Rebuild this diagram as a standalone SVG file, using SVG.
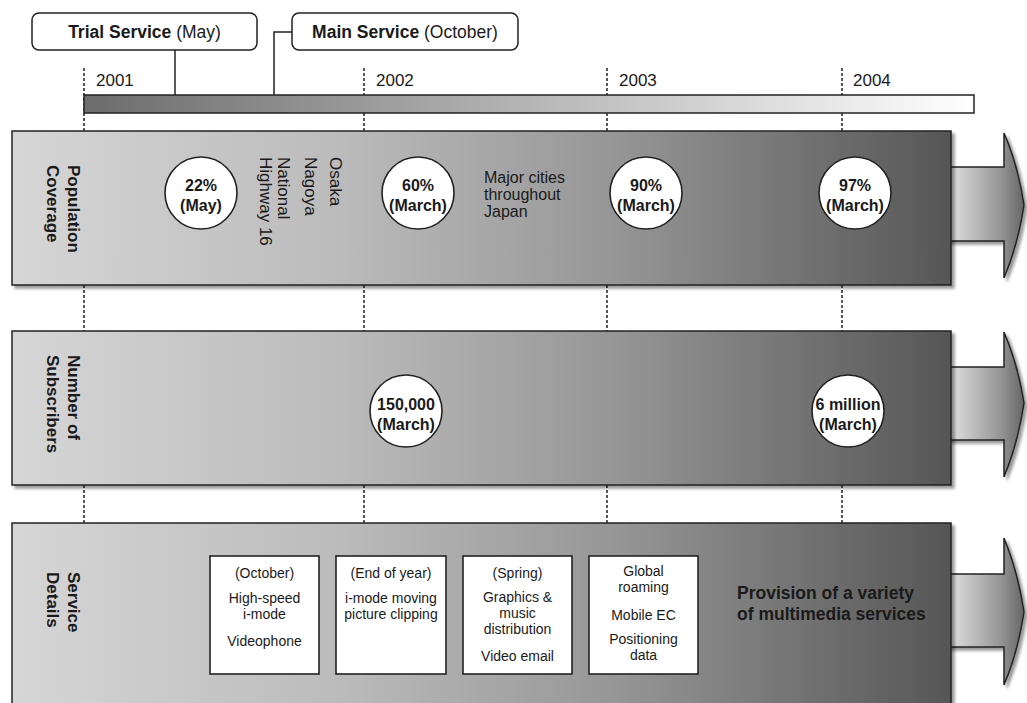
<svg xmlns="http://www.w3.org/2000/svg" width="1027" height="703" viewBox="0 0 1027 703">
<defs>
<style>
text{font-family:"Liberation Sans",Arial,Helvetica,sans-serif;fill:#1a1a1a}
.frame{stroke:#222;stroke-width:1.5}
.band{fill:url(#bandGrad);stroke:#222;stroke-width:1.5}
.arrow{fill:url(#arrowGrad);stroke:#222;stroke-width:1.5;stroke-linejoin:miter}
.grid{stroke:#222;stroke-width:1.5;stroke-dasharray:3 2;fill:none}
.lead{stroke:#222;stroke-width:1.5;fill:none}
.circ{fill:#fff;stroke:#222;stroke-width:1.6}
.box{fill:#fff;stroke:#222;stroke-width:1.6}
.tag{fill:#fff;stroke:#222;stroke-width:1.5}
.ct{font-size:16px;font-weight:bold;text-anchor:middle}
.rl{font-size:17px;font-weight:bold}
.rt{font-size:17px}
.mc{font-size:16px}
.bt{font-size:14px;text-anchor:middle}
.yr{font-size:17px}
.tt{font-size:17.5px;text-anchor:middle}
</style>
<linearGradient id="bandGrad" x1="0" y1="0" x2="1" y2="0">
<stop offset="0" stop-color="#d6d6d6"/>
<stop offset="0.35" stop-color="#bbbbbb"/>
<stop offset="0.65" stop-color="#959595"/>
<stop offset="1" stop-color="#565656"/>
</linearGradient>
<linearGradient id="barGrad" x1="0" y1="0" x2="1" y2="0">
<stop offset="0" stop-color="#6c6c6c"/>
<stop offset="1" stop-color="#ffffff"/>
</linearGradient>
<linearGradient id="arrowGrad" x1="0" y1="0" x2="1" y2="0">
<stop offset="0" stop-color="#e8e8e8"/>
<stop offset="0.7" stop-color="#959595"/>
<stop offset="1" stop-color="#666666"/>
</linearGradient>
<filter id="shadow" x="-5%" y="-5%" width="115%" height="120%">
<feGaussianBlur in="SourceAlpha" stdDeviation="1.5"/>
<feOffset dx="3" dy="3"/>
<feComponentTransfer><feFuncA type="linear" slope="0.4"/></feComponentTransfer>
<feMerge><feMergeNode/><feMergeNode in="SourceGraphic"/></feMerge>
</filter>
</defs>
<rect width="1027" height="703" fill="#fff"/>

<g id="gridlines">
<line class="grid" x1="84" y1="68" x2="84" y2="131"/>
<line class="grid" x1="364" y1="68" x2="364" y2="131"/>
<line class="grid" x1="607" y1="68" x2="607" y2="131"/>
<line class="grid" x1="842" y1="68" x2="842" y2="131"/>
<line class="grid" x1="84" y1="285" x2="84" y2="331"/>
<line class="grid" x1="364" y1="285" x2="364" y2="331"/>
<line class="grid" x1="607" y1="285" x2="607" y2="331"/>
<line class="grid" x1="842" y1="285" x2="842" y2="331"/>
<line class="grid" x1="84" y1="485" x2="84" y2="523"/>
<line class="grid" x1="364" y1="485" x2="364" y2="523"/>
<line class="grid" x1="607" y1="485" x2="607" y2="523"/>
<line class="grid" x1="842" y1="485" x2="842" y2="523"/>
</g>

<g id="years">
<text class="yr" x="96" y="86">2001</text>
<text class="yr" x="376" y="86">2002</text>
<text class="yr" x="619" y="86">2003</text>
<text class="yr" x="853" y="86">2004</text>
</g>

<g id="connectors">
<polyline class="lead" points="175,50 175,95"/>
<polyline class="lead" points="292,32 274,32 274,95"/>
</g>

<g id="timeline-bar">
<rect x="84" y="95" width="890" height="18" fill="url(#barGrad)" class="frame"/>
</g>

<g id="trial-service">
<rect class="tag" x="32" y="13" width="225" height="37" rx="7"/>
<text class="tt" x="144.5" y="38"><tspan font-weight="bold">Trial Service</tspan> (May)</text>
</g>
<g id="main-service">
<rect class="tag" x="292" y="13" width="226" height="37" rx="7"/>
<text class="tt" x="405" y="38"><tspan font-weight="bold">Main Service</tspan> (October)</text>
</g>

<g id="population-coverage">
<path class="arrow" filter="url(#shadow)" d="M945 167 L1004 167 L1004 133 Q1018 165 1024 205 Q1018 245 1004 278 L1004 241 L945 241 Z"/>
<rect class="band" filter="url(#shadow)" x="12" y="131" width="939" height="154"/>
<text class="rl" transform="translate(68,165) rotate(90)"><tspan x="0" y="0">Population</tspan><tspan x="0" y="21">Coverage</tspan></text>
<circle class="circ" cx="201" cy="193" r="36"/>
<text class="ct" x="201" y="191">22%</text>
<text class="ct" x="201" y="211">(May)</text>
<text class="rt" transform="translate(330,157) rotate(90)">Osaka</text>
<text class="rt" transform="translate(305,157) rotate(90)">Nagoya</text>
<text class="rt" transform="translate(278,157) rotate(90)"><tspan x="0" y="0">National</tspan><tspan x="0" y="18">Highway 16</tspan></text>
<circle class="circ" cx="418" cy="193" r="36"/>
<text class="ct" x="418" y="191">60%</text>
<text class="ct" x="418" y="211">(March)</text>
<text class="mc" x="484" y="183">Major cities</text>
<text class="mc" x="484" y="200">throughout</text>
<text class="mc" x="484" y="217">Japan</text>
<circle class="circ" cx="646" cy="193" r="36"/>
<text class="ct" x="646" y="191">90%</text>
<text class="ct" x="646" y="211">(March)</text>
<circle class="circ" cx="855" cy="193" r="36"/>
<text class="ct" x="855" y="191">97%</text>
<text class="ct" x="855" y="211">(March)</text>
</g>

<g id="number-of-subscribers">
<path class="arrow" filter="url(#shadow)" d="M945 367 L1004 367 L1004 332 Q1018 365 1024 403 Q1018 443 1004 477 L1004 440 L945 440 Z"/>
<rect class="band" filter="url(#shadow)" x="12" y="331" width="939" height="154"/>
<text class="rl" transform="translate(68,355) rotate(90)"><tspan x="0" y="0">Number of</tspan><tspan x="0" y="21">Subscribers</tspan></text>
<circle class="circ" cx="406" cy="411" r="36"/>
<text class="ct" x="406" y="410">150,000</text>
<text class="ct" x="406" y="430">(March)</text>
<circle class="circ" cx="848" cy="411" r="36"/>
<text class="ct" x="848" y="410">6 million</text>
<text class="ct" x="848" y="430">(March)</text>
</g>

<g id="service-details">
<path class="arrow" filter="url(#shadow)" d="M945 574 L1004 574 L1004 538 Q1018 572 1024 612 Q1018 652 1004 685 L1004 647 L945 647 Z"/>
<rect class="band" filter="url(#shadow)" x="12" y="523" width="939" height="200"/>
<text class="rl" transform="translate(68,572) rotate(90)"><tspan x="0" y="0">Service</tspan><tspan x="0" y="21">Details</tspan></text>
<g id="box-october">
<rect class="box" x="210" y="556" width="109" height="118"/>
<text class="bt" x="264.5" y="578">(October)</text>
<text class="bt" x="264.5" y="603">High-speed</text>
<text class="bt" x="264.5" y="619">i-mode</text>
<text class="bt" x="264.5" y="646">Videophone</text>
</g>
<g id="box-end-of-year">
<rect class="box" x="336" y="556" width="110" height="118"/>
<text class="bt" x="391" y="578">(End of year)</text>
<text class="bt" x="391" y="603">i-mode moving</text>
<text class="bt" x="391" y="619">picture clipping</text>
</g>
<g id="box-spring">
<rect class="box" x="463" y="556" width="109" height="118"/>
<text class="bt" x="517.5" y="578">(Spring)</text>
<text class="bt" x="517.5" y="602">Graphics &amp;</text>
<text class="bt" x="517.5" y="618">music</text>
<text class="bt" x="517.5" y="634">distribution</text>
<text class="bt" x="517.5" y="661">Video email</text>
</g>
<g id="box-global">
<rect class="box" x="589" y="556" width="109" height="118"/>
<text class="bt" x="643.5" y="576">Global</text>
<text class="bt" x="643.5" y="592">roaming</text>
<text class="bt" x="643.5" y="620">Mobile EC</text>
<text class="bt" x="643.5" y="644">Positioning</text>
<text class="bt" x="643.5" y="660">data</text>
</g>
<text x="737" y="599" font-size="17.5" font-weight="bold" fill="#151515">Provision of a variety</text>
<text x="737" y="620" font-size="17.5" font-weight="bold" fill="#151515">of multimedia services</text>
</g>
</svg>
